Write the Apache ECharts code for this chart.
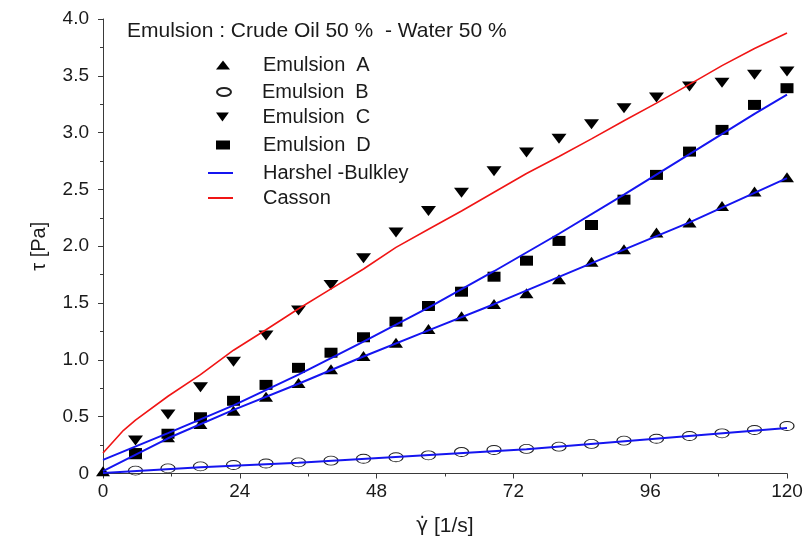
<!DOCTYPE html>
<html>
<head>
<meta charset="utf-8">
<title>Emulsion flow curves</title>
<script src="https://cdn.jsdelivr.net/npm/echarts@6/dist/echarts.min.js"></script>
<style>
  html, body { margin: 0; padding: 0; background: #fff; }
  #chart { width: 806px; height: 547px; }
</style>
</head>
<body>
<div id="chart"></div>
<script>
// Shear rate (1/s) at which the emulsions were measured
const shearRate = [5.7, 11.4, 17.1, 22.9, 28.6, 34.3, 40.0, 45.7, 51.4, 57.1, 62.9,
                   68.6, 74.3, 80.0, 85.7, 91.4, 97.1, 102.9, 108.6, 114.3, 120.0];
const shearRateA = [0].concat(shearRate);

// Measured shear stress (Pa)
const emulsionA = [0.02, 0.17, 0.32, 0.435, 0.553, 0.676, 0.797, 0.917, 1.034, 1.151, 1.272, 1.383,
                   1.492, 1.586, 1.709, 1.864, 1.974, 2.12, 2.208, 2.355, 2.481, 2.607];
const emulsionB = [0.025, 0.045, 0.063, 0.075, 0.088, 0.098, 0.113, 0.130, 0.143, 0.160, 0.189,
                   0.207, 0.216, 0.236, 0.260, 0.289, 0.306, 0.330, 0.354, 0.383, 0.418];
const emulsionC = [0.29, 0.52, 0.759, 0.984, 1.215, 1.435, 1.659, 1.894, 2.12, 2.31, 2.47,
                   2.66, 2.824, 2.946, 3.074, 3.215, 3.31, 3.405, 3.44, 3.51, 3.537];
const emulsionD = [0.18, 0.35, 0.495, 0.64, 0.78, 0.93, 1.063, 1.199, 1.336, 1.474, 1.60,
                   1.732, 1.873, 2.047, 2.187, 2.41, 2.628, 2.833, 3.024, 3.244, 3.391];

// Model curves [shear rate, stress]
const hbFitA = [[0, 0.02], [11.4, 0.31], [22.9, 0.56], [34.3, 0.79], [45.7, 1.03], [57.1, 1.26],
                [68.6, 1.49], [80, 1.73], [91.4, 1.97], [102.9, 2.21], [114.3, 2.47], [120, 2.60]];
const hbFitB = [[0, 0.005], [17.1, 0.055], [34.3, 0.095], [74.3, 0.213], [120, 0.40]];
const hbFitD = [[0, 0.12], [11.4, 0.355], [22.9, 0.60], [34.3, 0.87], [45.7, 1.16], [57.1, 1.46],
                [68.6, 1.78], [80, 2.11], [91.4, 2.455], [102.9, 2.81], [114.3, 3.165], [120, 3.335]];
const cassonFitC = [[0, 0.18], [3.6, 0.38], [5.7, 0.47], [11.4, 0.68], [17.1, 0.87], [22.9, 1.085],
                    [28.6, 1.265], [34.3, 1.45], [40, 1.625], [45.7, 1.80], [51.4, 1.99], [57.1, 2.15],
                    [62.9, 2.31], [68.6, 2.475], [74.3, 2.64], [80, 2.79], [85.7, 2.945], [91.4, 3.105],
                    [97.1, 3.26], [102.9, 3.425], [108.6, 3.59], [114.3, 3.74], [120, 3.877]];

// Axis ticks
const xTicks = [0, 24, 48, 72, 96, 120];
const yTicks = [0, 0.5, 1.0, 1.5, 2.0, 2.5, 3.0, 3.5, 4.0];

const FONT = 'Liberation Sans, Arial, sans-serif';
const pair = (xs, ys) => xs.map((x, i) => [x, ys[i]]);
const downTriangle = 'path://M0,0 L10,0 L5,7 Z';
const ellipseIcon = 'path://M0,4 A7,4 0 1,1 14,4 A7,4 0 1,1 0,4 Z';
const lineIcon = 'path://M0,0 L25,0 L25,2 L0,2 Z';

const axisColor = '#3a3a3a';
const textColor = '#1a1a1a';

// One legend block per entry so each row sits at its own height
function legendRow(name, icon, top, left, iw, ih, pad) {
  return {
    data: [{ name: name, icon: icon }], top: top, left: left, orient: 'vertical', padding: 0,
    itemWidth: iw, itemHeight: ih, selectedMode: false,
    formatter: n => '{p|}' + n,
    textStyle: { fontFamily: FONT, fontSize: 20, color: textColor, lineHeight: 22,
                 rich: { p: { width: pad } } }
  };
}

const chart = echarts.init(document.getElementById('chart'), null, { renderer: 'canvas' });
chart.setOption({
  animation: false,
  backgroundColor: '#fff',
  title: {
    text: 'Emulsion : Crude Oil 50 %  - Water 50 %',
    left: 127, top: 20, padding: 0,
    textStyle: { fontFamily: FONT, fontSize: 21, fontWeight: 'normal', color: textColor, lineHeight: 22 }
  },
  legend: [
    legendRow('Emulsion  A', 'triangle', 54, 216, 14, 9, 28),
    legendRow('Emulsion  B', ellipseIcon, 81, 216, 14, 8, 26),
    legendRow('Emulsion  C', downTriangle, 106, 216, 14, 9, 28),
    legendRow('Emulsion  D', 'rect', 134, 216, 14, 9, 28),
    legendRow('Harshel -Bulkley', lineIcon, 162, 208, 25, 2, 25),
    legendRow('Casson', lineIcon, 187, 208, 25, 2, 25)
  ],
  grid: { left: 103, right: 19, top: 19, bottom: 73.5, containLabel: false },
  xAxis: {
    type: 'value', min: xTicks[0], max: xTicks[xTicks.length - 1], interval: 24,
    name: '{g|γ̇} [1/s]', nameLocation: 'middle', nameGap: 42,
    nameTextStyle: { fontFamily: FONT, fontSize: 21, color: textColor,
                     rich: { g: { fontFamily: 'DejaVu Sans', fontSize: 20, color: textColor } } },
    axisLine: { show: true, lineStyle: { color: axisColor, width: 1 } },
    axisTick: { show: true, inside: false, length: 5, lineStyle: { color: axisColor } },
    minorTick: { show: true, splitNumber: 2, length: 3, lineStyle: { color: axisColor } },
    splitLine: { show: false },
    axisLabel: { fontFamily: FONT, fontSize: 19, color: textColor, margin: 9 }
  },
  yAxis: {
    type: 'value', min: yTicks[0], max: yTicks[yTicks.length - 1], interval: 0.5,
    name: 'τ [Pa]', nameLocation: 'middle', nameGap: 54, nameRotate: 90,
    nameTextStyle: { fontFamily: FONT, fontSize: 20, color: textColor },
    axisLine: { show: true, lineStyle: { color: axisColor, width: 1 } },
    axisTick: { show: true, inside: false, length: 5, lineStyle: { color: axisColor } },
    minorTick: { show: true, splitNumber: 2, length: 3, lineStyle: { color: axisColor } },
    splitLine: { show: false },
    axisLabel: {
      fontFamily: FONT, fontSize: 19, color: textColor, margin: 14,
      formatter: v => (v === 0 ? '0' : v.toFixed(1))
    }
  },
  series: [
    { name: 'Harshel -Bulkley', type: 'line', data: hbFitB, symbol: 'none', silent: true,
      lineStyle: { color: '#1515f0', width: 2 }, itemStyle: { color: '#1515f0' }, z: 3 },
    { name: 'Harshel -Bulkley', type: 'line', data: hbFitA, symbol: 'none', silent: true,
      lineStyle: { color: '#1515f0', width: 2 }, itemStyle: { color: '#1515f0' }, z: 3 },
    { name: 'Harshel -Bulkley', type: 'line', data: hbFitD, symbol: 'none', silent: true,
      lineStyle: { color: '#1515f0', width: 2 }, itemStyle: { color: '#1515f0' }, z: 3 },
    { name: 'Casson', type: 'line', data: cassonFitC, symbol: 'none', silent: true,
      lineStyle: { color: '#f01515', width: 1.6 }, itemStyle: { color: '#f01515' }, z: 3 },
    { name: 'Emulsion  A', type: 'scatter', data: pair(shearRateA, emulsionA), silent: true,
      symbol: 'triangle', symbolSize: [14, 10], itemStyle: { color: '#000', opacity: 1 }, z: 2 },
    { name: 'Emulsion  B', type: 'scatter', data: pair(shearRate, emulsionB), silent: true,
      symbol: 'circle', symbolSize: [14, 9],
      itemStyle: { color: 'rgba(255,255,255,0)', borderColor: '#222', borderWidth: 1, opacity: 1 }, z: 2 },
    { name: 'Emulsion  C', type: 'scatter', data: pair(shearRate, emulsionC), silent: true,
      symbol: downTriangle, symbolSize: [15, 10], itemStyle: { color: '#000', opacity: 1 }, z: 2 },
    { name: 'Emulsion  D', type: 'scatter', data: pair(shearRate, emulsionD), silent: true,
      symbol: 'rect', symbolSize: [13, 10], itemStyle: { color: '#000', opacity: 1 }, z: 2 }
  ]
});
</script>
</body>
</html>
